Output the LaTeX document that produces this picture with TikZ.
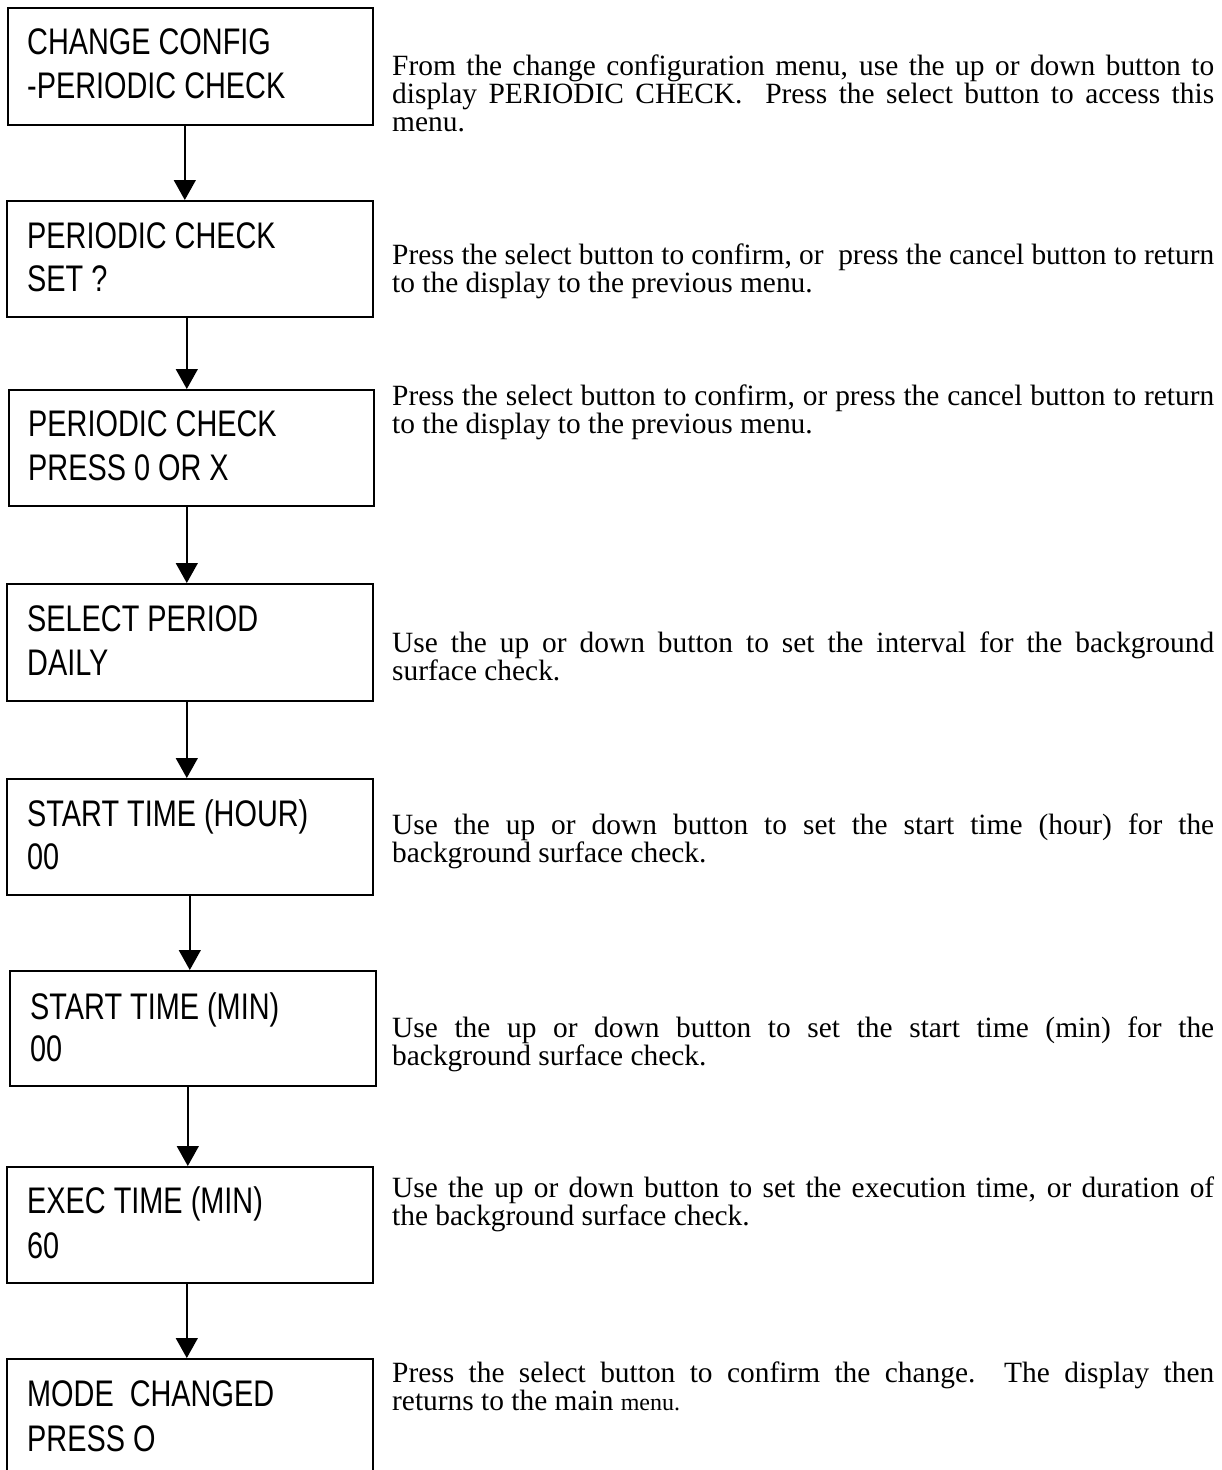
\documentclass[tikz,border=0pt]{standalone}
\usepackage{fontspec}
\setmainfont{Liberation Serif}
\newfontfamily\boxfont[FakeStretch=0.78]{Liberation Sans}
\usetikzlibrary{arrows.meta}
\hyphenpenalty=10000
\tolerance=9999
\begin{document}
\begin{tikzpicture}[x=1pt,y=-1pt,
  box/.style={draw, line width=1.6pt, inner sep=0pt, anchor=north west},
  lbl/.style={anchor=base west, inner sep=0pt, font=\boxfont\fontsize{37}{37}\selectfont},
  desc/.style={anchor=base west, inner sep=0pt, text width=822pt, align=justify,
    font=\fontsize{29.4}{28}\selectfont},
  arr/.style={-{Triangle[width=22pt,length=20pt]}, line width=1.4pt}]
\useasboundingbox (0,0) rectangle (1222,1470);
\clip (0,0) rectangle (1222,1470);

% boxes
\node[box, minimum width=365pt, minimum height=117pt] (b1) at (7,7) {};
\node[box, minimum width=366pt, minimum height=116pt] (b2) at (6,200) {};
\node[box, minimum width=365pt, minimum height=116pt] (b3) at (8,389) {};
\node[box, minimum width=366pt, minimum height=117pt] (b4) at (6,583) {};
\node[box, minimum width=366pt, minimum height=116pt] (b5) at (6,778) {};
\node[box, minimum width=366pt, minimum height=115pt] (b6) at (9,970) {};
\node[box, minimum width=366pt, minimum height=116pt] (b7) at (6,1166) {};
\node[box, minimum width=366pt, minimum height=150pt] (b8) at (6,1358) {};

% box texts
\node[lbl] (t1a) at (27,54) {CHANGE CONFIG};
\node[lbl] (t1b) at (27,98) {-PERIODIC CHECK};
\node[lbl] (t2a) at (27,248) {PERIODIC CHECK};
\node[lbl] (t2b) at (27,291) {SET ?};
\node[lbl] (t3a) at (28,436) {PERIODIC CHECK};
\node[lbl] (t3b) at (28,480) {PRESS 0 OR X};
\node[lbl] (t4a) at (27,631) {SELECT PERIOD};
\node[lbl] (t4b) at (27,675) {DAILY};
\node[lbl] (t5a) at (27,826) {START TIME (HOUR)};
\node[lbl] (t5b) at (27,869) {00};
\node[lbl] (t6a) at (30,1019) {START TIME (MIN)};
\node[lbl] (t6b) at (30,1061) {00};
\node[lbl] (t7a) at (27,1213) {EXEC TIME (MIN)};
\node[lbl] (t7b) at (27,1258) {60};
\node[lbl] (t8a) at (27,1406) {MODE\ \ CHANGED};
\node[lbl] (t8b) at (27,1451) {PRESS O};

% descriptions
\node[desc] (d1) at (392,75) {From the change configuration menu, use the up or down button to\linebreak display PERIODIC CHECK.\ \ Press the select button to access this\linebreak menu.};
\node[desc] (d2) at (392,264) {Press the select button to confirm, or\ \ press the cancel button to return\linebreak to the display to the previous menu.};
\node[desc] (d3) at (392,405) {Press the select button to confirm, or press the cancel button to return\linebreak to the display to the previous menu.};
\node[desc] (d4) at (392,652) {Use the up or down button to set the interval for the background\linebreak surface check.};
\node[desc] (d5) at (392,834) {Use the up or down button to set the start time (hour) for the\linebreak background surface check.};
\node[desc] (d6) at (392,1037) {Use the up or down button to set the start time (min) for the\linebreak background surface check.};
\node[desc] (d7) at (392,1197) {Use the up or down button to set the execution time, or duration of\linebreak the background surface check.};
\node[desc] (d8) at (392,1382) {Press the select button to confirm the change.\ \ The display then\linebreak returns to the main {\fontsize{24}{28}\selectfont menu.}};

% connectors
\draw[arr] ([xshift=-5.5pt]b1.south) -- ([xshift=-5.5pt]b1.south |- b2.north);
\draw[arr] ([xshift=-3pt]b2.south) -- ([xshift=-3pt]b2.south |- b3.north);
\draw[arr] ([xshift=-4.5pt]b3.south) -- ([xshift=-4.5pt]b3.south |- b4.north);
\draw[arr] ([xshift=-3pt]b4.south) -- ([xshift=-3pt]b4.south |- b5.north);
\draw[arr] (b5.south) -- (b5.south |- b6.north);
\draw[arr] ([xshift=-5pt]b6.south) -- ([xshift=-5pt]b6.south |- b7.north);
\draw[arr] ([xshift=-3pt]b7.south) -- ([xshift=-3pt]b7.south |- b8.north);
\end{tikzpicture}
\end{document}
